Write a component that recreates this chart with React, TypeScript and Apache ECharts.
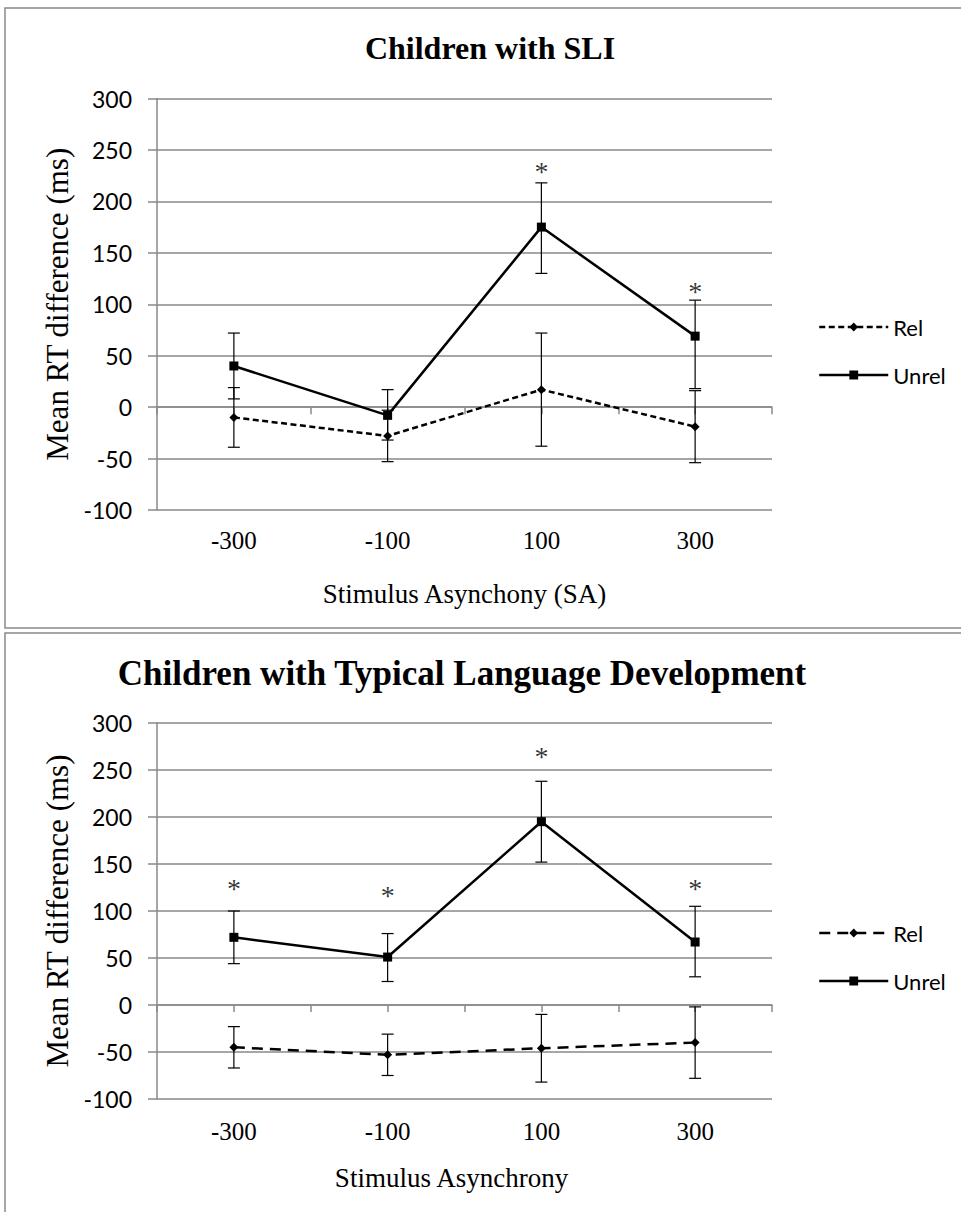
import React, { useEffect, useRef } from "react";
import * as echarts from "echarts";

// ---------- data ----------
const categories = ["-300", "-100", "100", "300"];
const yMin = -100;
const yMax = 300;
const yInterval = 50;

// Children with SLI
const sliRel = [-10, -28, 17, -19];
const sliRelLow = [-39, -53, -38, -54];
const sliRelHigh = [19, -3, 72, 16];
const sliUnrel = [40, -8, 175, 69];
const sliUnrelLow = [8, -32, 130, 18];
const sliUnrelHigh = [72, 17, 218, 104];
const sliStars = [null, null, 229, 112];

// Children with Typical Language Development
const tldRel = [-45, -53, -46, -40];
const tldRelLow = [-67, -75, -82, -78];
const tldRelHigh = [-23, -31, -10, -2];
const tldUnrel = [72, 51, 195, 67];
const tldUnrelLow = [44, 25, 152, 30];
const tldUnrelHigh = [100, 76, 238, 105];
const tldStars = [124, 116, 264, 124];

// ---------- styles ----------
const GRAY = "#898989";
const SERIF = "'Liberation Serif', 'Times New Roman', serif";
const SANS = "Lato, 'Open Sans', sans-serif";

type Panel = {
  title: string;
  titleX: number;
  titleY: number;
  titleSize: number;
  xName: string;
  xNameGap: number;
  xNamePad: number[];
  labelMargin: number;
  top: number;
  height: number;
  rel: number[];
  relLow: number[];
  relHigh: number[];
  unrel: number[];
  unrelLow: number[];
  unrelHigh: number[];
  stars: (number | null)[];
  relDash: number[];
  suffix: string;
  legendTop: number;
};

const panels: Panel[] = [
  {
    title: "Children with SLI",
    titleX: 490,
    titleY: 47.5,
    titleSize: 32,
    xName: "Stimulus Asynchony (SA)",
    xNameGap: 70,
    xNamePad: [0, 0, 0, 0],
    labelMargin: 18,
    top: 98.5,
    height: 411.5,
    rel: sliRel,
    relLow: sliRelLow,
    relHigh: sliRelHigh,
    unrel: sliUnrel,
    unrelLow: sliUnrelLow,
    unrelHigh: sliUnrelHigh,
    stars: sliStars,
    relDash: [6, 3.5],
    suffix: "",
    legendTop: 311,
  },
  {
    title: "Children with Typical Language Development",
    titleX: 462,
    titleY: 673,
    titleSize: 35,
    xName: "Stimulus Asynchrony",
    xNameGap: 65,
    xNamePad: [0, 26, 0, 0],
    labelMargin: 20,
    top: 723,
    height: 376,
    rel: tldRel,
    relLow: tldRelLow,
    relHigh: tldRelHigh,
    unrel: tldUnrel,
    unrelLow: tldUnrelLow,
    unrelHigh: tldUnrelHigh,
    stars: tldStars,
    relDash: [11, 7],
    suffix: "_b",
    legendTop: 917,
  },
];

const errorBar = (params: any, api: any) => {
  const x = api.value(0);
  const lo = api.coord([x, api.value(1)]);
  const hi = api.coord([x, api.value(2)]);
  const hw = 6;
  const st = { stroke: "#000", lineWidth: 1.2 };
  return {
    type: "group",
    children: [
      { type: "line", shape: { x1: lo[0], y1: lo[1], x2: hi[0], y2: hi[1] }, style: st },
      { type: "line", shape: { x1: lo[0] - hw, y1: lo[1], x2: lo[0] + hw, y2: lo[1] }, style: st },
      { type: "line", shape: { x1: hi[0] - hw, y1: hi[1], x2: hi[0] + hw, y2: hi[1] }, style: st },
    ],
  };
};

function buildOption() {
  const grid: any[] = [];
  const xAxis: any[] = [];
  const yAxis: any[] = [];
  const series: any[] = [];
  const legend: any[] = [];
  const graphic: any[] = [
    {
      type: "rect",
      silent: true,
      shape: { x: 5, y: 8, width: 1000, height: 620 },
      style: { fill: "none", stroke: GRAY, lineWidth: 1.5 },
    },
    {
      type: "rect",
      silent: true,
      shape: { x: 5, y: 633, width: 1000, height: 700 },
      style: { fill: "none", stroke: GRAY, lineWidth: 1.5 },
    },
  ];

  panels.forEach((p, i) => {
    grid.push({ left: 157, right: 189, top: p.top, height: p.height });
    graphic.push({
      type: "text",
      x: p.titleX,
      y: p.titleY,
      style: {
        text: p.title,
        fontFamily: SERIF,
        fontSize: p.titleSize,
        fontWeight: "bold",
        fill: "#000",
        textAlign: "center",
        textVerticalAlign: "middle",
      },
    });
    const axisLineStyle = { color: GRAY, width: 1.5 };
    xAxis.push(
      {
        gridIndex: i,
        type: "category",
        data: categories,
        position: "bottom",
        boundaryGap: true,
        axisLine: { show: false, onZero: false },
        axisTick: { show: false },
        splitLine: { show: false },
        axisLabel: { margin: p.labelMargin, fontFamily: SERIF, fontSize: 25, color: "#000" },
        name: p.xName,
        nameLocation: "middle",
        nameGap: p.xNameGap,
        nameTextStyle: { fontFamily: SERIF, fontSize: 27, color: "#000", padding: p.xNamePad },
      },
      {
        gridIndex: i,
        type: "category",
        data: categories,
        position: "bottom",
        axisLine: { show: true, onZero: true, onZeroAxisIndex: i, lineStyle: axisLineStyle },
        axisTick: { show: true, length: 7, lineStyle: axisLineStyle },
        axisLabel: { show: false },
        splitLine: { show: false },
      },
      {
        gridIndex: i,
        type: "category",
        data: categories,
        position: "bottom",
        axisLine: { show: false, onZero: true, onZeroAxisIndex: i },
        axisTick: { show: true, alignWithLabel: true, length: 7, lineStyle: axisLineStyle },
        axisLabel: { show: false },
        splitLine: { show: false },
      }
    );
    yAxis.push({
      gridIndex: i,
      type: "value",
      min: yMin,
      max: yMax,
      interval: yInterval,
      axisLine: { show: true, lineStyle: axisLineStyle },
      axisTick: { show: true, length: 9, lineStyle: axisLineStyle },
      splitLine: { show: true, lineStyle: axisLineStyle },
      axisLabel: { margin: 25, fontFamily: SANS, fontSize: 23, color: "#000" },
      name: "Mean RT difference (ms)",
      nameLocation: "middle",
      nameRotate: 90,
      nameGap: 82,
      nameTextStyle: { fontFamily: SERIF, fontSize: 31, color: "#000" },
    });

    const xi = i * 3;
    series.push(
      {
        type: "custom",
        xAxisIndex: xi,
        yAxisIndex: i,
        renderItem: errorBar,
        encode: { x: 0, y: [1, 2] },
        data: p.unrel.map((_, k) => [k, p.unrelLow[k], p.unrelHigh[k]]),
        z: 4,
      },
      {
        type: "custom",
        xAxisIndex: xi,
        yAxisIndex: i,
        renderItem: errorBar,
        encode: { x: 0, y: [1, 2] },
        data: p.rel.map((_, k) => [k, p.relLow[k], p.relHigh[k]]),
        z: 4,
      },
      {
        name: "Rel" + p.suffix,
        type: "line",
        xAxisIndex: xi,
        yAxisIndex: i,
        data: p.rel,
        symbol: "diamond",
        symbolSize: 9,
        itemStyle: { color: "#000" },
        lineStyle: { color: "#000", width: 2.5, type: p.relDash },
        z: 3,
      },
      {
        name: "Unrel" + p.suffix,
        type: "line",
        xAxisIndex: xi,
        yAxisIndex: i,
        data: p.unrel,
        symbol: "rect",
        symbolSize: 9,
        itemStyle: { color: "#000" },
        lineStyle: { color: "#000", width: 2.5, type: "solid" },
        z: 3,
      },
      {
        type: "scatter",
        xAxisIndex: xi,
        yAxisIndex: i,
        data: p.stars,
        symbolSize: 1,
        itemStyle: { color: "transparent" },
        label: {
          show: true,
          position: "inside",
          formatter: "*",
          fontFamily: SERIF,
          fontSize: 28,
          color: "#000",
          textBorderWidth: 0,
        },
        z: 5,
      }
    );

    legend.push({
      data: ["Rel" + p.suffix, "Unrel" + p.suffix],
      orient: "vertical",
      left: 813,
      top: p.legendTop,
      itemWidth: 69,
      itemHeight: 11,
      itemGap: 26,
      selectedMode: false,
      lineStyle: { width: 2.5 },
      formatter: (n: string) => n.replace("_b", ""),
      textStyle: { fontFamily: SANS, fontSize: 22, color: "#000", lineHeight: 22 },
    });
  });

  return {
    animation: false,
    backgroundColor: "#fff",
    grid,
    xAxis,
    yAxis,
    series,
    legend,
    graphic,
  };
}

export default function App() {
  const ref = useRef<HTMLDivElement>(null);
  useEffect(() => {
    if (!ref.current) return;
    const chart = echarts.init(ref.current, undefined, { renderer: "svg" });
    chart.setOption(buildOption() as any);
    return () => chart.dispose();
  }, []);
  return (
    <div
      ref={ref}
      style={{ position: "absolute", left: 0, top: 0, width: 961, height: 1212, background: "#fff" }}
    />
  );
}
